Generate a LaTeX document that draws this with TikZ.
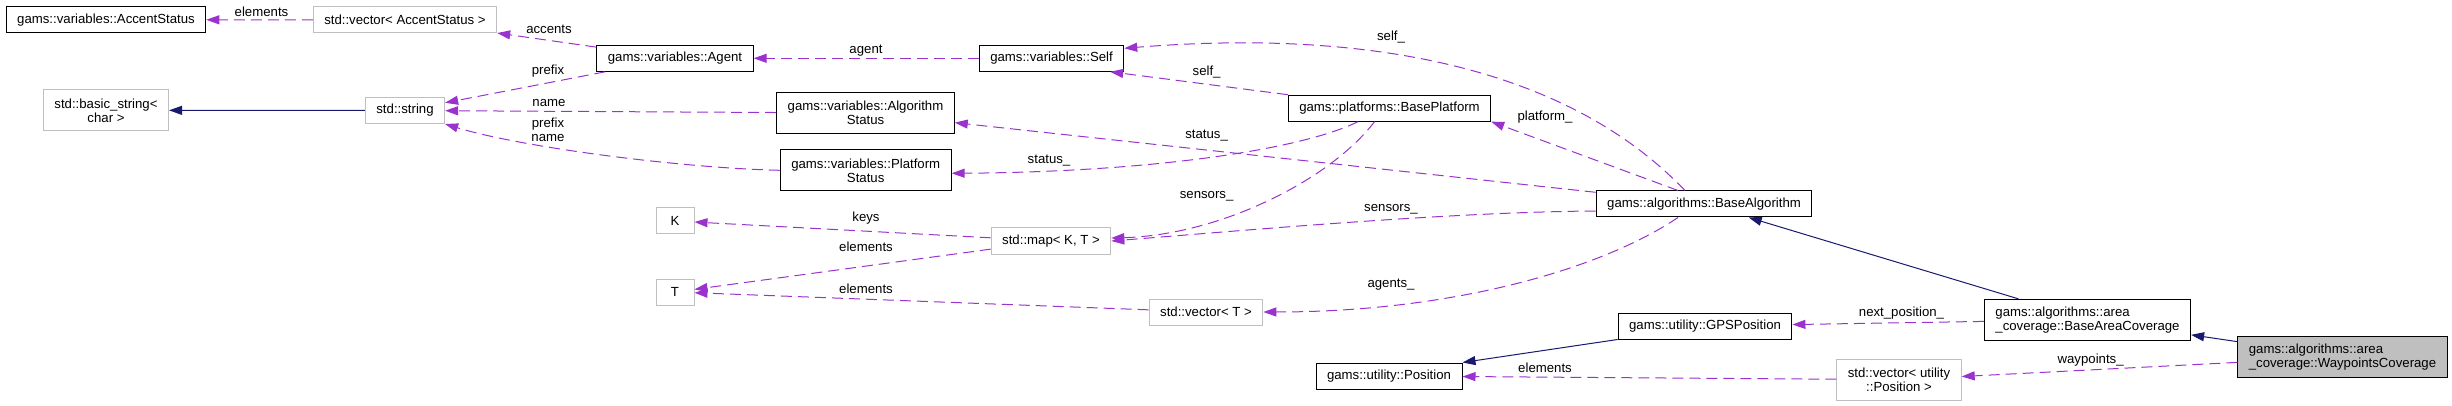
\documentclass[tikz,border=0pt]{standalone}
\usepackage{fontspec}
\setmainfont{Liberation Sans}
\usepackage{xcolor}
\usetikzlibrary{arrows.meta,calc}
\definecolor{DoxPurple}{HTML}{9A32CD}
\definecolor{DoxNavy}{HTML}{191970}
\definecolor{DoxGrey}{HTML}{BFBFBF}

\begin{document}
\begin{tikzpicture}[
  x=1pt,
  y=-1pt,
  font=\fontsize{13.2}{14}\selectfont,
  cls/.style={draw=black, line width=1pt, fill=white, minimum height=26pt, minimum width=38pt, inner xsep=11pt, inner ysep=0pt},
  ext/.style={cls, draw=DoxGrey},
  twoline/.style={minimum height=40.7pt},
  dep/.style={-{Triangle[length=13pt,width=9pt]}, DoxPurple, line width=1pt, dash pattern=on 11pt off 6pt},
  inh/.style={-{Triangle[length=13pt,width=9pt]}, DoxNavy, line width=1pt},
  lbl/.style={inner sep=0pt, align=center, text=black}
]
\useasboundingbox (0,0) rectangle (2452,406);
% classes
\node[cls] (accent) at (106,19.7) {gams::variables::AccentStatus};
\node[ext] (vecAccent) at (405,20) {std::vector< AccentStatus >};
\node[cls] (agent) at (675,58.3) {gams::variables::Agent};
\node[ext, twoline, align=center] (bstring) at (106,110.3) {std::basic\_string<\\char >};
\node[ext] (string) at (405,110.5) {std::string};
\node[cls] (self) at (1051.5,58.3) {gams::variables::Self};
\node[cls, twoline, align=center] (algStatus) at (865.5,113) {gams::variables::Algorithm\\Status};
\node[cls, twoline, align=center] (platStatus) at (865.7,170.3) {gams::variables::Platform\\Status};
\node[cls] (platform) at (1389.5,108.2) {gams::platforms::BasePlatform};
\node[cls] (baseAlg) at (1704,204) {gams::algorithms::BaseAlgorithm};
\node[ext] (K) at (675,221) {K};
\node[ext] (T) at (675,292) {T};
\node[ext] (map) at (1051,241) {std::map< K, T >};
\node[ext] (vecT) at (1206,312) {std::vector< T >};
\node[cls] (position) at (1389,376) {gams::utility::Position};
\node[cls] (gps) at (1705,326) {gams::utility::GPSPosition};
\node[cls, twoline, align=left] (areaCov) at (2087.5,319.7) {gams::algorithms::area\\\_coverage::BaseAreaCoverage};
\node[cls, twoline, align=left, fill=DoxGrey] (waypoints) at (2342.5,357) {gams::algorithms::area\\\_coverage::WaypointsCoverage};
\node[ext, twoline, align=center] (vecPos) at (1899,379.7) {std::vector< utility\\::Position >};
% usage (dashed) and inheritance (solid)
\draw[dep] (vecAccent) -- (accent) node[lbl] (lElemAcc) at (261.5,11.7) {elements};
\draw[dep] (agent) -- (vecAccent) node[lbl] (lAccents) at (549,29.3) {accents};
\draw[dep] (self) -- (agent) node[lbl] (lAgent) at (866,51) {agent};
\draw[dep] (agent) -- (string) node[lbl] (lPrefix) at (548,71) {prefix};
\draw[dep] (algStatus) -- (string) node[lbl] (lName) at (549,103.3) {name};
\draw[dep] (platStatus.west) .. controls (680,168) and (520,147) .. (string.south east) node[lbl] (lPrefixName) at (548,130) {prefix\\name};
\draw[inh] (string) -- (bstring);
\draw[dep] ([xshift=-19pt]baseAlg.north) .. controls (1560,60) and (1350,30) .. ([yshift=10pt]self.east) node[lbl] (lSelfAlg) at (1391,36.7) {self\_};
\draw[dep] (platform.north west) -- ([xshift=-14pt]self.south east) node[lbl] (lSelfPlat) at (1206.6,71.7) {self\_};
\draw[dep] ([xshift=-26pt]baseAlg.north) -- (platform.south east) node[lbl] (lPlatform) at (1545,117) {platform\_};
\draw[dep] (baseAlg) -- (algStatus) node[lbl] (lStatusAlg) at (1206.6,136) {status\_};
\draw[dep] ([xshift=-31.5pt]platform.south) .. controls (1300,150) and (1150,172) .. ([yshift=-3pt]platStatus.east) node[lbl] (lStatusPlat) at (1049,161) {status\_};
\draw[dep] ([xshift=-15pt]platform.south) .. controls (1330,180) and (1220,235) .. ([yshift=3pt]map.east) node[lbl] (lSensorsPlat) at (1206.6,196) {sensors\_};
\draw[dep] ([yshift=-7pt]baseAlg.west) .. controls (1450,212) and (1250,230) .. (map.east) node[lbl] (lSensorsAlg) at (1391,209) {sensors\_};
\draw[dep] (map) -- (K) node[lbl] (lKeys) at (866,218.3) {keys};
\draw[dep] (map) -- (T) node[lbl] (lElemMap) at (866,246.7) {elements};
\draw[dep] (vecT) -- (T) node[lbl] (lElemVec) at (866,288.3) {elements};
\draw[dep] ([xshift=-26pt]baseAlg.south) .. controls (1600,270) and (1450,312) .. (vecT.east) node[lbl] (lAgents) at (1391,285) {agents\_};
\draw[dep] (areaCov) -- (gps) node[lbl] (lNext) at (1901.5,312.7) {next\_position\_};
\draw[inh] (gps.south west) -- (position.north east);
\draw[dep] (vecPos) -- (position) node[lbl] (lElemPos) at (1545,367.3) {elements};
\draw[dep] (waypoints) -- (vecPos) node[lbl] (lWaypoints) at (2090.6,360) {waypoints\_};
\draw[inh] (areaCov) -- (baseAlg);
\draw[inh] (waypoints) -- (areaCov);
\end{tikzpicture}
\end{document}
